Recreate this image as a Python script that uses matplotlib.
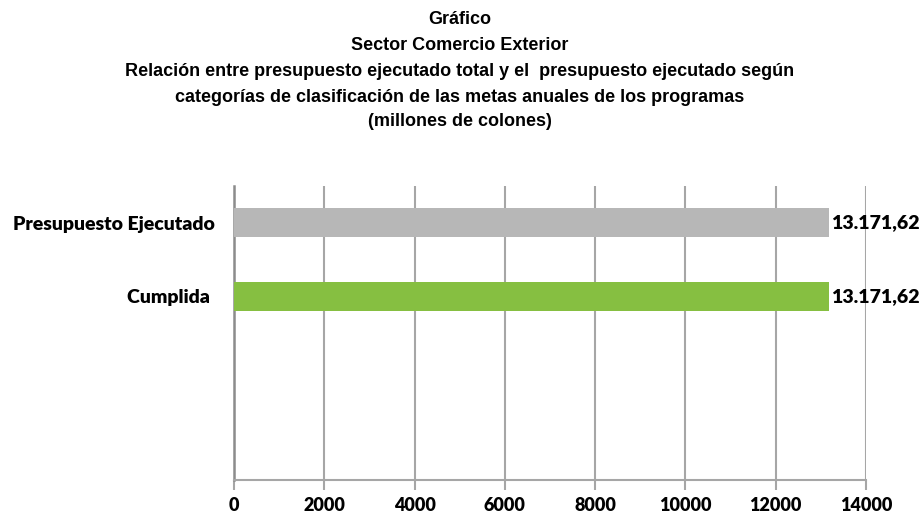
import numpy as np
import matplotlib.pyplot as plt

# categorías (de arriba hacia abajo); las dos últimas sin etiqueta ni valor
categorias = ['Presupuesto Ejecutado', 'Cumplida ', '', '']
valores = [13171.62, 13171.62, 0, 0]
colores = ['#B7B7B7', '#86BF41', '#86BF41', '#86BF41']
etiquetas = ['13.171,62', '13.171,62', '', '']
ticks_x = [0, 2000, 4000, 6000, 8000, 10000, 12000, 14000]

titulo = ['Gráfico',
          'Sector Comercio Exterior',
          'Relación entre presupuesto ejecutado total y el  presupuesto ejecutado según',
          'categorías de clasificación de las metas anuales de los programas',
          '(millones de colones)']

fig = plt.figure(figsize=(9.2, 5.16), dpi=100)
ax = fig.add_axes([0.2543, 0.0698, 0.687, 0.5697])

y = np.arange(len(categorias))[::-1]
for yi, v, c, lab in zip(y, valores, colores, etiquetas):
    if v > 0:
        ax.barh(yi, v, height=0.39, color=c, zorder=3)
        ax.text(v + 60, yi, lab, va='center', ha='left', fontsize=14,
                fontweight='heavy', family='Lato', zorder=4)

ax.set_ylim(-0.5, len(categorias) - 0.5)
ax.set_xlim(0, 14000)
ax.set_xticks(ticks_x)
ax.set_xticklabels([str(t) for t in ticks_x], fontsize=13, fontweight='heavy',
                   family='Lato')
ax.set_yticks(y)
ax.set_yticklabels(categorias, fontsize=14, fontweight='heavy', family='Lato')
ax.tick_params(axis='y', length=0, pad=14)
ax.tick_params(axis='x', length=7, width=1.5, color='#A6A6A6', pad=5)

ax.grid(axis='x', color='#A6A6A6', linewidth=1.5, zorder=0)
for s in ['top', 'right']:
    ax.spines[s].set_visible(False)
ax.spines['left'].set_color('#8C8C8C')
ax.spines['left'].set_linewidth(1.8)
ax.spines['bottom'].set_color('#A6A6A6')
ax.spines['bottom'].set_linewidth(1.5)

ys = [19, 45, 72, 97, 122]
for t, yp in zip(titulo, ys):
    fig.text(0.5, 1 - yp / 516, t, ha='center', va='center', fontsize=13,
             fontweight='bold', family='Liberation Sans')

fig.savefig('out.png', dpi=100)
